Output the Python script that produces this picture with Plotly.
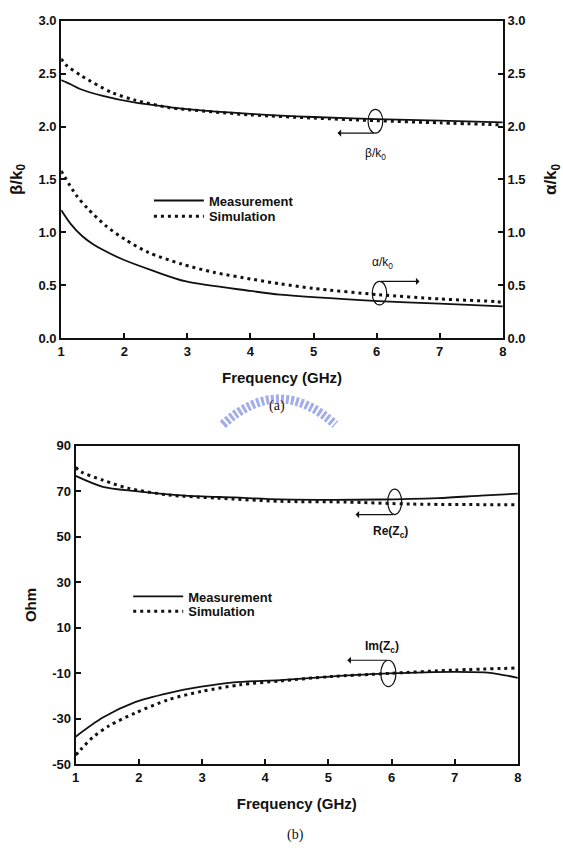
import plotly.graph_objects as go

# ---------------- data ----------------
beta_meas_f = [1, 1.15, 1.3, 1.66, 2.18, 2.7, 3, 4, 5, 6, 7, 8]
beta_meas_v = [2.44, 2.40, 2.355, 2.29, 2.225, 2.185, 2.165, 2.12, 2.09, 2.07, 2.055, 2.04]
beta_sim_f = [1, 1.08, 1.32, 1.81, 2.17, 2.7, 3, 4, 5, 6, 7, 8]
beta_sim_v = [2.64, 2.58, 2.48, 2.32, 2.25, 2.18, 2.16, 2.11, 2.08, 2.055, 2.035, 2.015]

alpha_meas_f = [1, 1.15, 1.34, 1.5, 1.66, 1.97, 2.44, 2.98, 4, 4.47, 6.03, 7, 8]
alpha_meas_v = [1.21, 1.08, 0.96, 0.89, 0.835, 0.745, 0.64, 0.535, 0.446, 0.41, 0.35, 0.325, 0.30]
alpha_sim_f = [1, 1.24, 1.42, 1.71, 2.02, 2.38, 2.91, 3.43, 4.05, 4.47, 5, 6.03, 7, 7.9, 8]
alpha_sim_v = [1.58, 1.35, 1.225, 1.06, 0.93, 0.81, 0.70, 0.62, 0.554, 0.513, 0.47, 0.41, 0.37, 0.344, 0.335]

re_meas_f = [1, 1.43, 1.95, 2.73, 3.51, 4.24, 5.8, 6.74, 7.41, 8]
re_meas_v = [76.8, 72.0, 70.1, 68.1, 67.3, 66.5, 66.4, 67.0, 68.1, 69.0]
re_sim_f = [1, 1.09, 1.43, 1.84, 2.47, 3.25, 4.24, 5.28, 6.32, 8]
re_sim_v = [80.5, 78.5, 74.9, 71.3, 68.4, 67.0, 65.6, 65.3, 64.4, 64.1]

im_meas_f = [1, 1.43, 1.95, 2.47, 2.99, 3.5, 4.24, 5.02, 5.95, 6.99, 7.56, 8]
im_meas_v = [-37.9, -29.5, -22.6, -18.7, -15.9, -14.0, -13.0, -11.5, -10.1, -9.4, -9.8, -12.0]
im_sim_f = [1, 1.08, 1.27, 1.53, 1.95, 2.47, 2.99, 3.6, 4.24, 5.02, 5.95, 6.99, 8]
im_sim_v = [-46, -43.6, -38.2, -33.1, -27.4, -21.6, -18.0, -15.1, -13.4, -11.5, -10.1, -8.6, -7.7]

x_ticks = [1, 2, 3, 4, 5, 6, 7, 8]
top_y_ticks = [0.0, 0.5, 1.0, 1.5, 2.0, 2.5, 3.0]
top_y_labels = ["0.0", "0.5", "1.0", "1.5", "2.0", "2.5", "3.0"]
bot_y_ticks = [-50, -30, -10, 10, 30, 50, 70, 90]
bot_y_labels = ["-50", "-30", "-10", "10", "30", "50", "70", "90"]
legend_names = ["Measurement", "Simulation"]

# ---------------- styling ----------------
FONT = "Liberation Sans, Arial, sans-serif"
BLACK = "#111111"
solid = dict(color=BLACK, width=1.8, shape="spline", smoothing=0.8)
dotted = dict(color=BLACK, width=3, dash="3px,4px", shape="spline", smoothing=0.8)

fig = go.Figure()

# top panel
fig.add_trace(go.Scatter(x=beta_meas_f, y=beta_meas_v, mode="lines", line=solid,
                         name=legend_names[0], legend="legend", xaxis="x", yaxis="y"))
fig.add_trace(go.Scatter(x=beta_sim_f, y=beta_sim_v, mode="lines", line=dotted,
                         name=legend_names[1], legend="legend2", xaxis="x", yaxis="y"))
fig.add_trace(go.Scatter(x=alpha_meas_f, y=alpha_meas_v, mode="lines", line=solid,
                         name=legend_names[0], showlegend=False, xaxis="x", yaxis="y2"))
fig.add_trace(go.Scatter(x=alpha_sim_f, y=alpha_sim_v, mode="lines", line=dotted,
                         name=legend_names[1], showlegend=False, xaxis="x", yaxis="y2"))

# bottom panel
fig.add_trace(go.Scatter(x=re_meas_f, y=re_meas_v, mode="lines", line=solid,
                         name=legend_names[0], legend="legend3", xaxis="x2", yaxis="y3"))
fig.add_trace(go.Scatter(x=re_sim_f, y=re_sim_v, mode="lines", line=dotted,
                         name=legend_names[1], legend="legend4", xaxis="x2", yaxis="y3"))
fig.add_trace(go.Scatter(x=im_meas_f, y=im_meas_v, mode="lines", line=solid,
                         name=legend_names[0], showlegend=False, xaxis="x2", yaxis="y3"))
fig.add_trace(go.Scatter(x=im_sim_f, y=im_sim_v, mode="lines", line=dotted,
                         name=legend_names[1], showlegend=False, xaxis="x2", yaxis="y3"))

tickfont = dict(family=FONT, size=13, color=BLACK, weight="bold")
titlefont = dict(family=FONT, size=15, color=BLACK, weight="bold")
axis_common = dict(showline=True, linewidth=2, linecolor=BLACK, ticks="inside",
                   ticklen=5, tickwidth=1.5, tickcolor=BLACK, showgrid=False,
                   zeroline=False, tickfont=tickfont)

W, H = 563, 855
def px(x0, x1):
    return [x0 / W, x1 / W]
def py(top, bottom):
    return [1 - bottom / H, 1 - top / H]

legfont = dict(family=FONT, size=13, color=BLACK, weight="bold")
def leg(x, y, iw):
    return dict(x=x / W, y=1 - y / H, xanchor="left", yanchor="middle",
                bgcolor="rgba(0,0,0,0)", font=legfont, itemwidth=iw)

fig.update_layout(
    width=W, height=H, margin=dict(l=0, r=0, t=0, b=0),
    paper_bgcolor="white", plot_bgcolor="white",
    font=dict(family=FONT, color=BLACK),
    xaxis=dict(domain=px(58, 506), range=[1, 8], tickvals=x_ticks, anchor="y",
               mirror=True, title=dict(text="Frequency (GHz)", font=titlefont, standoff=15),
               **axis_common),
    yaxis=dict(domain=py(14, 337), range=[0, 3], tickvals=top_y_ticks, ticktext=top_y_labels,
               anchor="x", title=dict(text="β/k<sub>0</sub>", font=dict(family=FONT, size=17, color=BLACK, weight="bold"), standoff=12),
               **axis_common),
    yaxis2=dict(domain=py(14, 337), range=[0, 3], tickvals=top_y_ticks, ticktext=top_y_labels,
                anchor="x", overlaying="y", side="right",
                title=dict(text="α/k<sub>0</sub>", font=dict(family=FONT, size=17, color=BLACK, weight="bold"), standoff=22),
                **axis_common),
    xaxis2=dict(domain=px(72.7, 521.3), range=[1, 8], tickvals=x_ticks, anchor="y3",
                mirror=True, title=dict(text="Frequency (GHz)", font=titlefont, standoff=15),
                **axis_common),
    yaxis3=dict(domain=py(446.7, 770.7), range=[-50, 90], tickvals=bot_y_ticks,
                ticktext=bot_y_labels, anchor="x2", mirror=True,
                title=dict(text="Ohm", font=titlefont, standoff=12),
                **axis_common),
    legend=leg(147, 197, 50),
    legend2=leg(147, 213, 50),
    legend3=leg(126, 600, 50),
    legend4=leg(126, 615, 50),
)

# watermark-like decoration near "(a)"
def pp(x, y):
    return f"{x / W:.5f},{1 - y / H:.5f}"
fig.add_shape(type="path", xref="paper", yref="paper",
              path=f"M{pp(222, 425)} Q{pp(279, 373)} {pp(336, 425)}",
              line=dict(color="#a3ade8", width=9, dash="3px,2px"), layer="below")

# ellipses marking the curve groups
ell = dict(type="circle", line=dict(color=BLACK, width=1.2), fillcolor="rgba(0,0,0,0)")
fig.add_shape(xref="x", yref="y", x0=5.864, x1=6.098, y0=1.938, y1=2.163, **ell)
fig.add_shape(xref="x", yref="y2", x0=5.93, x1=6.16, y0=0.313, y1=0.536, **ell)
fig.add_shape(xref="x2", yref="y3", x0=5.94, x1=6.16, y0=59.8, y1=71.0, **ell)
fig.add_shape(xref="x2", yref="y3", x0=5.83, x1=6.07, y0=-15.9, y1=-4.3, **ell)

arrow = dict(text="", showarrow=True, arrowhead=1, arrowsize=1, arrowwidth=1.2, arrowcolor=BLACK)
fig.add_annotation(xref="x", yref="y", x=5.38, y=1.938, axref="x", ayref="y", ax=5.98, ay=1.938, **arrow)
fig.add_annotation(xref="x", yref="y2", x=6.68, y=0.536, axref="x", ayref="y2", ax=6.045, ay=0.536, **arrow)
fig.add_annotation(xref="x2", yref="y3", x=5.43, y=59.8, axref="x2", ayref="y3", ax=6.05, ay=59.8, **arrow)
fig.add_annotation(xref="x2", yref="y3", x=5.30, y=-4.3, axref="x2", ayref="y3", ax=5.95, ay=-4.3, **arrow)

lab = dict(showarrow=False, xanchor="center", yanchor="middle",
           font=dict(family=FONT, size=12, color=BLACK))
labb = dict(showarrow=False, xanchor="center", yanchor="middle",
            font=dict(family=FONT, size=12, color=BLACK, weight="bold"))
fig.add_annotation(xref="x", yref="y", x=5.98, y=1.736, text="β/k<sub>0</sub>", **lab)
fig.add_annotation(xref="x", yref="y2", x=6.09, y=0.708, text="α/k<sub>0</sub>", **lab)
fig.add_annotation(xref="x2", yref="y3", x=5.98, y=51.9, text="Re(Z<sub>c</sub>)", **labb)
fig.add_annotation(xref="x2", yref="y3", x=5.85, y=1.4, text="Im(Z<sub>c</sub>)", **labb)

serif = dict(family="Liberation Serif, Times New Roman, serif", size=14, color=BLACK)
fig.add_annotation(xref="paper", yref="paper", x=277 / W, y=1 - 406 / H, text="(a)",
                   xanchor="center", yanchor="middle", showarrow=False, font=serif)
fig.add_annotation(xref="paper", yref="paper", x=296 / W, y=1 - 843 / H, text="(b)",
                   xanchor="center", yanchor="middle", showarrow=False, font=serif)

fig.write_html("out.html")
